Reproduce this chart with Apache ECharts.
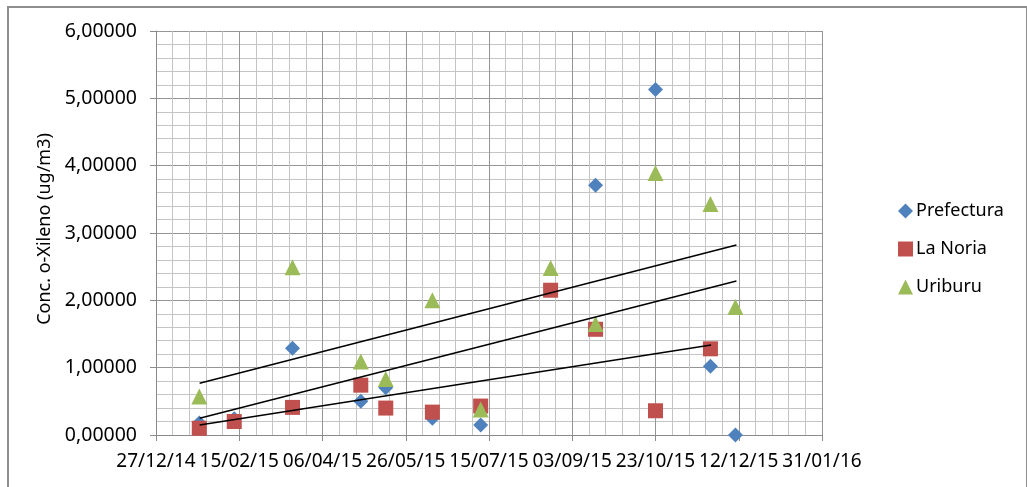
<!DOCTYPE html>
<html>
<head>
<meta charset="utf-8">
<script src="https://cdn.jsdelivr.net/npm/echarts@6/dist/echarts.min.js"></script>
<style>
  html, body { margin: 0; padding: 0; background: #fff; }
  #chart { width: 1027px; height: 487px; }
  #frame {
    position: absolute; left: 7px; top: 6px; width: 1017px; height: 500px;
    border: 2px solid #8e8e8e; pointer-events: none;
  }
</style>
</head>
<body>
<div id="chart"></div>
<div id="frame"></div>
<script>
// x values are spreadsheet day serials (42000 = 27/12/14)
const prefecturaDays = [42026, 42047, 42082, 42123, 42138, 42166, 42195, 42264, 42300, 42333, 42348];
const prefecturaVals = [0.18, 0.24, 1.29, 0.50, 0.70, 0.25, 0.15, 3.71, 5.13, 1.02, 0.0];

const laNoriaDays = [42026, 42047, 42082, 42123, 42138, 42166, 42195, 42237, 42264, 42300, 42333];
const laNoriaVals = [0.10, 0.20, 0.41, 0.74, 0.40, 0.34, 0.43, 2.15, 1.57, 0.36, 1.28];

const uriburuDays = [42026, 42082, 42123, 42138, 42166, 42195, 42237, 42264, 42300, 42333, 42348];
const uriburuVals = [0.57, 2.49, 1.09, 0.83, 2.00, 0.38, 2.48, 1.65, 3.89, 3.43, 1.90];

// trend lines as drawn (start / end)
const trendPrefectura = [[42026.2, 0.248], [42348.6, 2.287]];
const trendLaNoria = [[42026.2, 0.149], [42333.4, 1.337]];
const trendUriburu = [[42026.2, 0.768], [42348.6, 2.822]];

const seriesNames = ["Prefectura", "La Noria", "Uriburu"];

const FONT = "Noto Sans";

function pairs(xs, ys) {
  return xs.map((x, i) => [x, ys[i]]);
}

function serialToLabel(v) {
  const d = new Date(Date.UTC(1899, 11, 30) + v * 86400000);
  const dd = String(d.getUTCDate()).padStart(2, "0");
  const mm = String(d.getUTCMonth() + 1).padStart(2, "0");
  const yy = String(d.getUTCFullYear() % 100).padStart(2, "0");
  return `${dd}/${mm}/${yy}`;
}

function trend(data) {
  return {
    type: "line",
    data,
    symbol: "none",
    silent: true,
    lineStyle: { color: "#000", width: 1.5 },
    z: 3,
  };
}

const chart = echarts.init(document.getElementById("chart"));
chart.setOption({
  animation: false,
  grid: { left: 156, top: 31, width: 666, height: 404 },
  legend: {
    orient: "vertical",
    left: 893,
    top: 197,
    itemGap: 20,
    itemWidth: 15,
    itemHeight: 15,
    data: seriesNames,
    textStyle: { fontFamily: FONT, fontSize: 18, color: "#000", padding: [0, 0, 0, -2] },
  },
  xAxis: {
    type: "value",
    min: 42000,
    max: 42400,
    interval: 50,
    axisLine: { show: true, lineStyle: { color: "#8a8a8a", width: 1 } },
    axisTick: { show: true, length: 6, lineStyle: { color: "#8a8a8a" } },
    axisLabel: {
      margin: 17,
      fontFamily: FONT,
      fontSize: 19,
      color: "#000",
      formatter: serialToLabel,
    },
    splitLine: { show: true, lineStyle: { color: "#959595", width: 1 } },
    minorTick: { show: false, splitNumber: 5 },
    minorSplitLine: { show: true, lineStyle: { color: "#c4c4c4", width: 1 } },
  },
  yAxis: {
    type: "value",
    min: 0,
    max: 6,
    interval: 1,
    name: "Conc. o-Xileno (ug/m3)",
    nameLocation: "middle",
    nameGap: 98,
    nameRotate: 90,
    nameTextStyle: { fontFamily: FONT, fontSize: 18, color: "#000", padding: [0, 0, 0, 8] },
    axisLine: { show: true, lineStyle: { color: "#8a8a8a", width: 1 } },
    axisTick: { show: true, length: 6, lineStyle: { color: "#8a8a8a" } },
    axisLabel: {
      margin: 19,
      fontFamily: FONT,
      fontSize: 19.5,
      color: "#000",
      formatter: (v) => v.toFixed(5).replace(".", ","),
    },
    splitLine: { show: true, lineStyle: { color: "#959595", width: 1 } },
    minorTick: { show: false, splitNumber: 5 },
    minorSplitLine: { show: true, lineStyle: { color: "#c4c4c4", width: 1 } },
  },
  series: [
    {
      name: "Prefectura",
      type: "scatter",
      symbol: "diamond",
      symbolSize: 15,
      itemStyle: { color: "#4F81BD", opacity: 1 },
      data: pairs(prefecturaDays, prefecturaVals),
      z: 2,
    },
    {
      name: "La Noria",
      type: "scatter",
      symbol: "rect",
      symbolSize: 15,
      itemStyle: { color: "#C0504D", opacity: 1 },
      data: pairs(laNoriaDays, laNoriaVals),
      z: 2,
    },
    {
      name: "Uriburu",
      type: "scatter",
      symbol: "triangle",
      symbolSize: 16,
      itemStyle: { color: "#9BBB59", opacity: 1 },
      data: pairs(uriburuDays, uriburuVals),
      z: 2,
    },
    trend(trendPrefectura),
    trend(trendLaNoria),
    trend(trendUriburu),
  ],
});
</script>
</body>
</html>
